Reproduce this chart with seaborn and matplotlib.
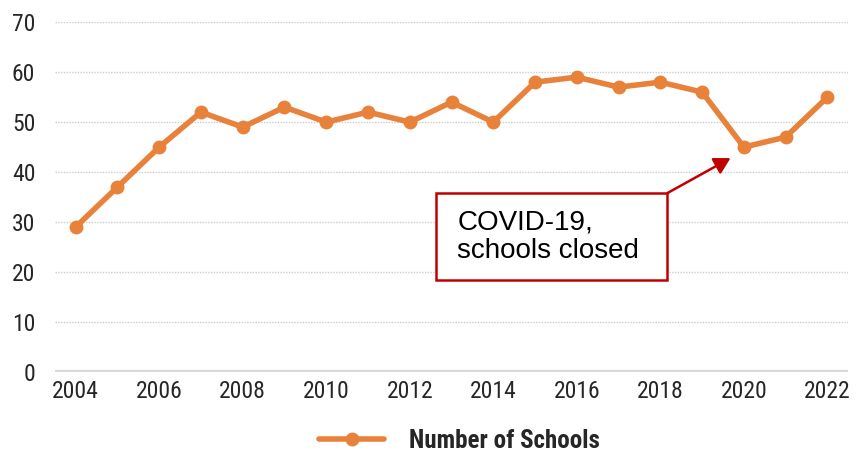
import matplotlib
matplotlib.use("Agg")
import matplotlib.pyplot as plt
from matplotlib import font_manager
from matplotlib.patches import Rectangle
import seaborn as sns
import pandas as pd

years = list(range(2004, 2023))
schools = [29, 37, 45, 52, 49, 53, 50, 52, 50, 54, 50, 58, 59, 57, 58, 56, 45, 47, 55]
xticks = list(range(2004, 2023, 2))
yticks = list(range(0, 71, 10))
series_name = "Number of Schools"
note = "COVID-19,\nschools closed"

df = pd.DataFrame({"Year": years, series_name: schools})

sns.set_theme(style="white")

# pick a narrow face if one is installed
stretch = "normal"
narrow = "DejaVu Sans"
for f in font_manager.fontManager.ttflist:
    if f.name in ("Liberation Sans Narrow", "Roboto Condensed", "Open Sans Condensed"):
        narrow = f.name
        break
else:
    for f in font_manager.fontManager.ttflist:
        if f.name == "DejaVu Sans" and f.stretch in ("condensed", 600, "semi-condensed"):
            stretch = "condensed"
            break
        if f.name in ("Roboto", "Open Sans") and str(f.stretch) in ("condensed", "semi-condensed"):
            narrow = f.name
            stretch = "condensed"
            break

cond = [narrow, "DejaVu Sans"]
plt.rcParams["font.family"] = cond
plt.rcParams["font.stretch"] = stretch

orange = "#E8823A"
dark = "#262626"
fig = plt.figure(figsize=(8.56, 4.53), dpi=100)
ax = fig.add_axes([0.064, 0.179, 0.927, 0.772])

sns.lineplot(data=df, x="Year", y=series_name, ax=ax, color=orange,
             linewidth=4, marker="o", markersize=10, markeredgewidth=0,
             label=series_name, legend=False)

ax.set_xlim(2003.5, 2022.5)
ax.set_ylim(0, 70)
ax.set_xticks(xticks)
ax.set_yticks(yticks)
ax.set_xticklabels([str(t) for t in xticks], fontsize=17, color=dark)
ax.set_yticklabels([str(t) for t in yticks], fontsize=17, color=dark)
ax.set_xlabel("")
ax.set_ylabel("")
ax.tick_params(axis="x", length=0, pad=6)
ax.tick_params(axis="y", length=0, pad=14)

for y in yticks[1:]:
    ax.axhline(y, color="#cccccc", linewidth=1.0, linestyle=(0, (1, 1)), zorder=0)
ax.axhline(0, color="#d9d9d9", linewidth=3, zorder=1)
for s in ax.spines.values():
    s.set_visible(False)

# callout box with arrow pointing at the 2020 dip
red = "#C00000"
box = Rectangle((2012.63, 18.4), 5.54, 17.4, facecolor="white", edgecolor=red,
                linewidth=1.8, zorder=3)
ax.add_patch(box)
ax.text(2013.14, 27.1, note, fontsize=20, family=["Liberation Sans", "DejaVu Sans"],
        stretch="normal", color="black", ha="left", va="center", linespacing=1.1,
        zorder=4)
ax.annotate("", xy=(2019.68, 42.8), xytext=(2018.17, 35.8),
            arrowprops=dict(arrowstyle="-|>,head_length=0.8,head_width=0.45",
                            color=red, lw=1.8, shrinkA=0, shrinkB=0), zorder=4)

leg = ax.legend(handles=ax.get_lines()[:1], labels=[series_name],
                loc="upper center", bbox_to_anchor=(0.51, -0.112), frameon=False,
                handlelength=2.6, handletextpad=1.0, borderpad=0.2,
                prop={"family": cond, "size": 18, "weight": "bold", "stretch": stretch})
for t in leg.get_texts():
    t.set_color(dark)

fig.savefig("out.png", dpi=100)
